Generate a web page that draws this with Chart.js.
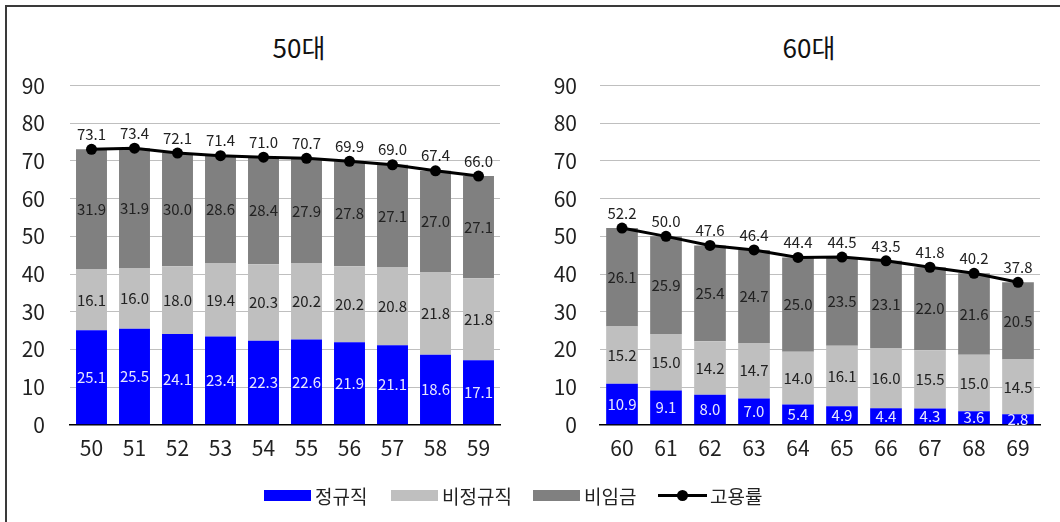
<!DOCTYPE html>
<html lang="ko">
<head>
<meta charset="utf-8">
<title>연령별 고용률 및 종사상 지위</title>
<script src="https://cdn.jsdelivr.net/npm/chart.js@4/dist/chart.umd.min.js"></script>
<style>
  html, body { margin: 0; padding: 0; background: #fff; }
  body { width: 1060px; height: 522px; position: relative; overflow: hidden;
         font-family: "Noto Sans CJK KR", "Noto Sans", sans-serif; color: #222; }
  .frame { position: absolute; left: 5px; top: 5px; width: 1100px; height: 600px;
           border-left: 2px solid #3a3a3a; border-top: 2px solid #3a3a3a; }
  .panel { position: absolute; top: 0; }
  .title { position: absolute; top: 28px; font-size: 26px; transform: translateX(-50%);
           white-space: nowrap; color: #111; }
  .legend { position: absolute; top: 480px; left: 0; width: 1060px; height: 30px; font-size: 19px; }
  .legend .item { position: absolute; top: 0; display: flex; align-items: center; height: 30px; }
  .legend .sw { width: 47px; height: 11px; margin-right: 4px; }
  .legend .ln { width: 49px; height: 14px; margin-right: 3px; position: relative; }
  .legend .ln::before { content: ""; position: absolute; left: 0; right: 0; top: 6px; height: 3px; background: #000; }
  .legend .ln::after { content: ""; position: absolute; left: 19px; top: 2px; width: 11px; height: 11px; border-radius: 50%; background: #000; }
</style>
</head>
<body>
<div class="frame"></div>
<div class="title" style="left:299px">50대</div>
<div class="title" style="left:809px">60대</div>
<canvas id="c50" class="panel" style="left:0px" width="520" height="481"></canvas>
<canvas id="c60" class="panel" style="left:530px" width="530" height="481"></canvas>
<div class="legend">
  <div class="item" style="left:264px"><span class="sw" style="background:#0000ff"></span>정규직</div>
  <div class="item" style="left:391px"><span class="sw" style="background:#bfbfbf"></span>비정규직</div>
  <div class="item" style="left:533px"><span class="sw" style="background:#808080"></span>비임금</div>
  <div class="item" style="left:658px"><span class="ln"></span>고용률</div>
</div>
<script>
// 50대: 연령별 종사상 지위 구성 (%)
const ages50 = ['50', '51', '52', '53', '54', '55', '56', '57', '58', '59'];
const regular50 = [25.1, 25.5, 24.1, 23.4, 22.3, 22.6, 21.9, 21.1, 18.6, 17.1];
const nonRegular50 = [16.1, 16.0, 18.0, 19.4, 20.3, 20.2, 20.2, 20.8, 21.8, 21.8];
const nonWage50 = [31.9, 31.9, 30.0, 28.6, 28.4, 27.9, 27.8, 27.1, 27.0, 27.1];
const empRate50 = [73.1, 73.4, 72.1, 71.4, 71.0, 70.7, 69.9, 69.0, 67.4, 66.0];

// 60대
const ages60 = ['60', '61', '62', '63', '64', '65', '66', '67', '68', '69'];
const regular60 = [10.9, 9.1, 8.0, 7.0, 5.4, 4.9, 4.4, 4.3, 3.6, 2.8];
const nonRegular60 = [15.2, 15.0, 14.2, 14.7, 14.0, 16.1, 16.0, 15.5, 15.0, 14.5];
const nonWage60 = [26.1, 25.9, 25.4, 24.7, 25.0, 23.5, 23.1, 22.0, 21.6, 20.5];
const empRate60 = [52.2, 50.0, 47.6, 46.4, 44.4, 44.5, 43.5, 41.8, 40.2, 37.8];

const yTicks = [0, 10, 20, 30, 40, 50, 60, 70, 80, 90];

const FONT = '"Noto Sans CJK KR", "Noto Sans", sans-serif';

// 막대 구간 중앙과 선 위 점 위에 값 표시
const valueLabels = {
  id: 'valueLabels',
  afterDatasetsDraw(chart) {
    const ctx = chart.ctx;
    ctx.save();
    ctx.font = '15px ' + FONT;
    ctx.textAlign = 'center';
    ctx.textBaseline = 'middle';
    chart.data.datasets.forEach((ds, di) => {
      const meta = chart.getDatasetMeta(di);
      meta.data.forEach((el, i) => {
        const v = ds.data[i];
        const txt = v.toFixed(1);
        if (ds.type === 'line') {
          ctx.fillStyle = '#222';
          ctx.fillText(txt, el.x, el.y - 15);
        } else {
          ctx.fillStyle = ds.labelColor;
          ctx.fillText(txt, el.x, (el.y + el.base) / 2);
        }
      });
    });
    ctx.restore();
  }
};

function makeChart(id, labels, regular, nonRegular, nonWage, rate, tickPad) {
  return new Chart(document.getElementById(id), {
    data: {
      labels: labels,
      datasets: [
        { type: 'line', label: '고용률', data: rate, stack: 'rate', order: 0,
          borderColor: '#000', backgroundColor: '#000', borderWidth: 3,
          pointRadius: 5.5, pointBackgroundColor: '#000', pointBorderWidth: 0, tension: 0 },
        { type: 'bar', label: '정규직', data: regular, stack: 'work', order: 1,
          backgroundColor: '#0000ff', labelColor: '#e6e6ff' },
        { type: 'bar', label: '비정규직', data: nonRegular, stack: 'work', order: 1,
          backgroundColor: '#bfbfbf', labelColor: '#222' },
        { type: 'bar', label: '비임금', data: nonWage, stack: 'work', order: 1,
          backgroundColor: '#808080', labelColor: '#222' }
      ]
    },
    options: {
      responsive: false,
      animation: false,
      events: [],
      layout: { padding: { top: 85.6, right: 20, bottom: 9, left: 0 } },
      datasets: { bar: { barPercentage: 0.72, categoryPercentage: 1 } },
      plugins: { legend: { display: false }, title: { display: false }, tooltip: { enabled: false } },
      scales: {
        x: {
          stacked: true,
          grid: { display: false, drawTicks: false },
          border: { display: true, color: '#000', width: 1.5 },
          ticks: { color: '#222', padding: 11, font: { family: FONT, size: 21 } }
        },
        y: {
          stacked: true,
          min: 0, max: 90,
          afterBuildTicks(scale) { scale.ticks = yTicks.map(v => ({ value: v })); },
          afterFit(scale) { scale.width = 70; },
          grid: { color: '#bfbfbf', lineWidth: 1, drawTicks: false },
          border: { display: false },
          ticks: { color: '#222', padding: tickPad, font: { family: FONT, size: 21 } }
        }
      }
    },
    plugins: [valueLabels]
  });
}

makeChart('c50', ages50, regular50, nonRegular50, nonWage50, empRate50, 25);
makeChart('c60', ages60, regular60, nonRegular60, nonWage60, empRate60, 23);
</script>
</body>
</html>
